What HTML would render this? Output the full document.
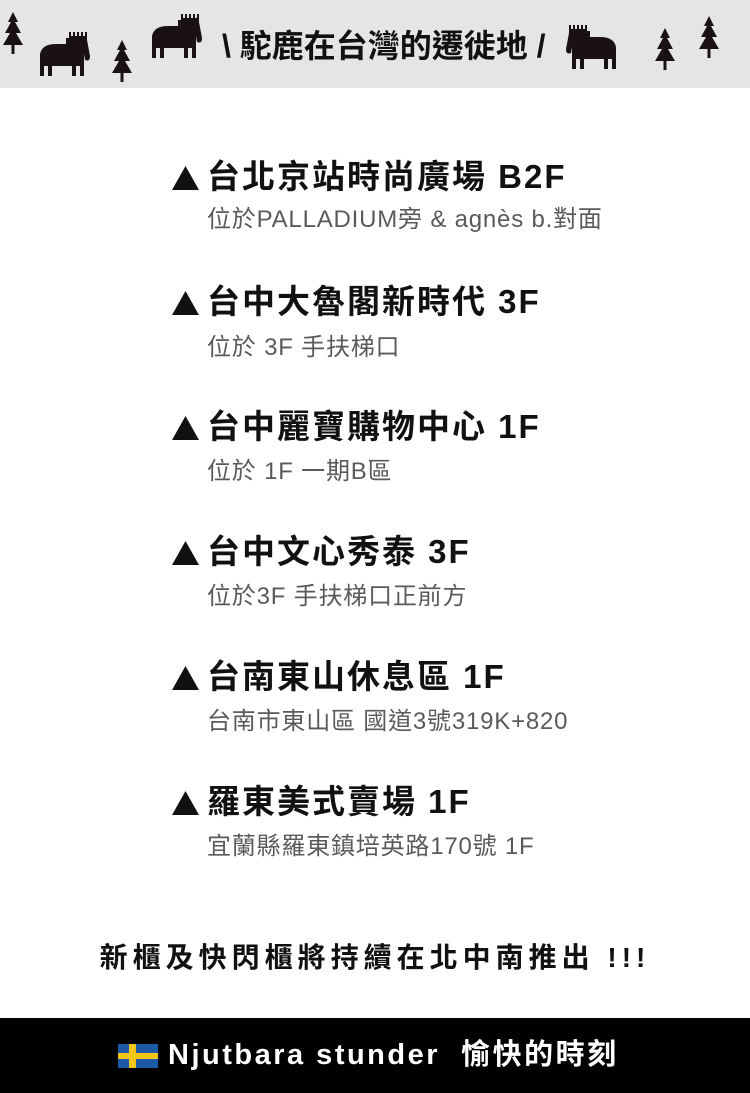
<!DOCTYPE html>
<html><head><meta charset="utf-8">
<style>
*{margin:0;padding:0;box-sizing:border-box}
body{width:750px;height:1093px;background:#fff;position:relative;overflow:hidden;font-family:"Liberation Sans","Noto Sans CJK TC",sans-serif}
.hdr{position:absolute;left:0;top:0;width:750px;height:88px;background:#e5e5e5}
.ht{position:absolute;left:222px;top:26px;font-size:32px;font-weight:bold;color:#111;letter-spacing:0px;line-height:40px;white-space:nowrap}
.t{position:absolute;left:207px;font-size:33px;font-weight:bold;color:#111;line-height:40px;white-space:nowrap;letter-spacing:2px}
.tri{position:absolute;left:172px;width:27px;height:24px}
.s{position:absolute;left:207px;font-size:24px;color:#5a5a5a;line-height:30px;white-space:nowrap;letter-spacing:0.8px}
.note{position:absolute;left:0;width:750px;top:940px;text-align:center;font-size:28px;font-weight:bold;color:#111;letter-spacing:5px;line-height:36px}
.ftr{position:absolute;left:0;top:1018px;width:750px;height:75px;background:#000}
.ft{position:absolute;left:168px;top:1036px;font-size:29px;font-weight:bold;color:#fff;line-height:38px;letter-spacing:2.5px;white-space:nowrap}
</style></head><body>
<div class="hdr"></div>
<svg width="750" height="88" style="position:absolute;left:0;top:0">
<defs>
<g id="tree"><polygon points="10,0 15,10 12,10 18,21 13,21 20,33 0,33 7,21 2,21 8,10 5,10"/><rect x="8.5" y="32" width="3" height="10"/></g>
<g id="moose"><path d="M0,6 L3,6 L3,0 L5,0 L5,4 L7,4 L7,0 L9,0 L9,4 L11,4 L11,0 L13,0 L13,4 L15,4 L15,0 L17,0 L17,4 L19,4 L19,0 L21,0 L21,8 L24,24 Q24,30 19,28 L18,22 L18,44 L14,44 L14,34 L10,34 L10,44 L6,44 L6,34 L-14,34 L-14,44 L-18,44 L-18,34 L-22,34 L-22,44 L-26,44 L-26,22 Q-24,12 -10,12 L0,12Z"/></g>
</defs>
<g fill="#1a1212">
<use href="#tree" x="3" y="12"/>
<use href="#tree" x="112" y="40"/>
<use href="#tree" x="655" y="28"/>
<use href="#tree" x="699" y="16"/>
<use href="#moose" x="66" y="32"/>
<use href="#moose" x="178" y="14"/>
<g transform="translate(1166,0) scale(-1,1)"><use href="#moose" x="576" y="25"/></g>
</g>
</svg>
<div class="ht">\ 駝鹿在台灣的遷徙地 /</div>

<svg class="tri" style="top:166px" viewBox="0 0 27 24"><polygon points="13.5,0 27,24 0,24" fill="#111"/></svg>
<div class="t" style="top:157px">台北京站時尚廣場 B2F</div>
<div class="s" style="top:205px">位於PALLADIUM旁 &amp; agnès b.對面</div>
<svg class="tri" style="top:291px" viewBox="0 0 27 24"><polygon points="13.5,0 27,24 0,24" fill="#111"/></svg>
<div class="t" style="top:282px">台中大魯閣新時代 3F</div>
<div class="s" style="top:333px">位於 3F 手扶梯口</div>
<svg class="tri" style="top:416px" viewBox="0 0 27 24"><polygon points="13.5,0 27,24 0,24" fill="#111"/></svg>
<div class="t" style="top:407px">台中麗寶購物中心 1F</div>
<div class="s" style="top:457px">位於 1F 一期B區</div>
<svg class="tri" style="top:541px" viewBox="0 0 27 24"><polygon points="13.5,0 27,24 0,24" fill="#111"/></svg>
<div class="t" style="top:532px">台中文心秀泰 3F</div>
<div class="s" style="top:582px">位於3F 手扶梯口正前方</div>
<svg class="tri" style="top:666px" viewBox="0 0 27 24"><polygon points="13.5,0 27,24 0,24" fill="#111"/></svg>
<div class="t" style="top:657px">台南東山休息區 1F</div>
<div class="s" style="top:707px">台南市東山區 國道3號319K+820</div>
<svg class="tri" style="top:791px" viewBox="0 0 27 24"><polygon points="13.5,0 27,24 0,24" fill="#111"/></svg>
<div class="t" style="top:782px">羅東美式賣場 1F</div>
<div class="s" style="top:832px">宜蘭縣羅東鎮培英路170號 1F</div>

<div class="note">新櫃及快閃櫃將持續在北中南推出 !!!</div>
<div class="ftr"></div>
<svg width="40" height="24" style="position:absolute;left:118px;top:1044px"><rect width="40" height="24" fill="#1c5aa8"/><rect x="11" width="7" height="24" fill="#f5c518"/><rect y="9" width="40" height="6" fill="#f5c518"/></svg>
<div class="ft">Njutbara stunder&nbsp;&nbsp;愉快的時刻</div>
</body></html>
